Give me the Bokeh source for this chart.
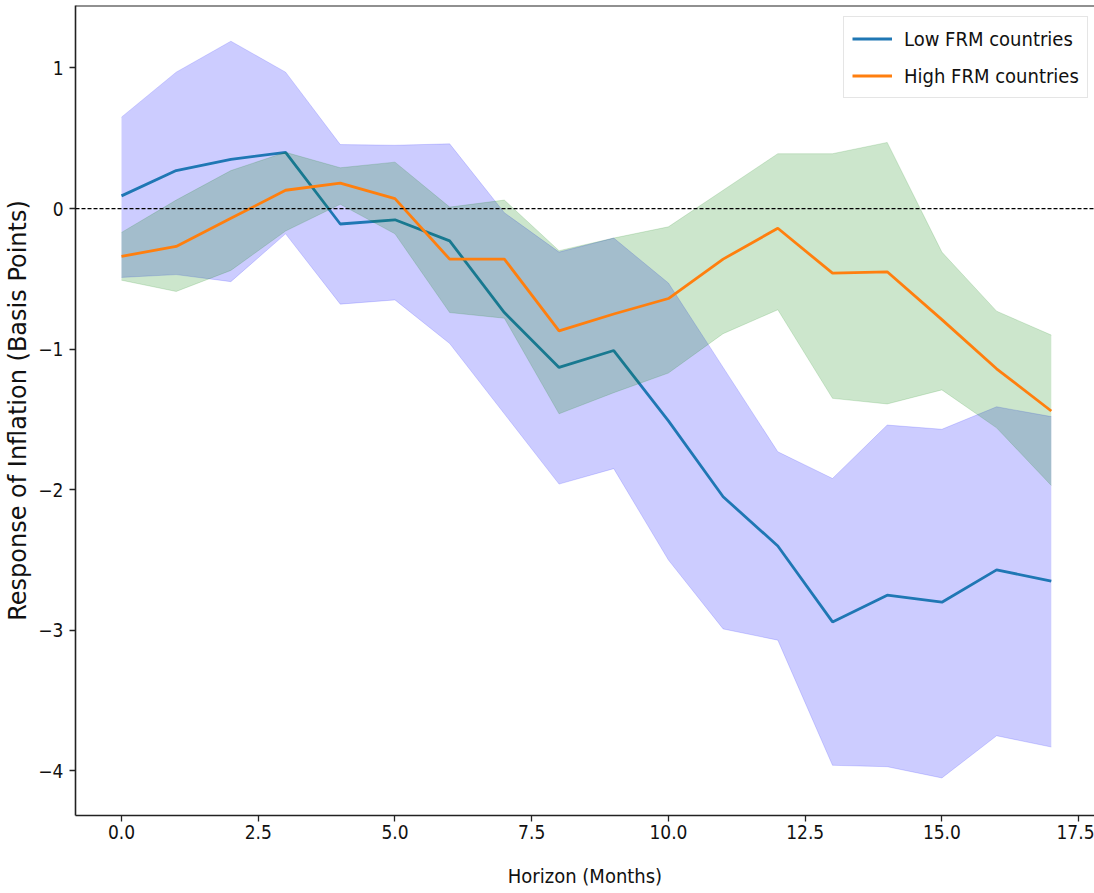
from bokeh.plotting import figure
from bokeh.models import Span, Legend, LegendItem, FixedTicker, Range1d, NumeralTickFormatter
from bokeh.embed import file_html
from bokeh.resources import INLINE

# ---- data ----
horizon = list(range(18))

low_mean = [0.09, 0.27, 0.35, 0.40, -0.11, -0.08, -0.23, -0.74, -1.13, -1.01,
            -1.51, -2.05, -2.40, -2.94, -2.75, -2.80, -2.57, -2.65]
low_upper = [0.65, 0.97, 1.19, 0.97, 0.455, 0.45, 0.46, -0.03, -0.31, -0.21,
             -0.53, -1.13, -1.73, -1.92, -1.54, -1.57, -1.41, -1.48]
low_lower = [-0.49, -0.47, -0.52, -0.18, -0.68, -0.65, -0.96, -1.46, -1.96, -1.85,
             -2.50, -2.99, -3.07, -3.96, -3.97, -4.05, -3.75, -3.83]

high_mean = [-0.34, -0.27, -0.07, 0.13, 0.18, 0.07, -0.36, -0.36, -0.87, -0.75,
             -0.64, -0.36, -0.14, -0.46, -0.45, -0.79, -1.14, -1.44]
high_upper = [-0.17, 0.06, 0.27, 0.40, 0.29, 0.33, 0.01, 0.06, -0.30, -0.21,
              -0.13, 0.13, 0.39, 0.39, 0.47, -0.31, -0.73, -0.90]
high_lower = [-0.51, -0.59, -0.44, -0.16, 0.03, -0.18, -0.74, -0.78, -1.46, -1.31,
              -1.17, -0.89, -0.72, -1.35, -1.39, -1.29, -1.56, -1.97]

series_labels = ["Low FRM countries", "High FRM countries"]
x_ticks = [0, 2.5, 5, 7.5, 10, 12.5, 15, 17.5]
y_ticks = [-4, -3, -2, -1, 0, 1]
y_tick_labels = {-4: "\u22124", -3: "\u22123", -2: "\u22122", -1: "\u22121", 0: "0", 1: "1"}

COND = "DejaVu Sans Condensed"

X0, X1 = -0.841, 17.79
Y0, Y1 = -4.317, 1.444

p = figure(width=1094, height=893, output_backend="svg", toolbar_location=None,
           x_range=Range1d(X0, X1), y_range=Range1d(Y0, Y1),
           min_border_left=75, min_border_right=0, min_border_top=5, min_border_bottom=78)
p.background_fill_color = "white"
p.border_fill_color = "white"
p.outline_line_color = None
p.xgrid.visible = False
p.ygrid.visible = False

# fill_between / plot order as in the source figure
p.varea(x=horizon, y1=low_lower, y2=low_upper, fill_color="blue", fill_alpha=0.2)
p.line(horizon, low_upper, line_color="blue", line_alpha=0.15, line_width=1)
p.line(horizon, low_lower, line_color="blue", line_alpha=0.15, line_width=1)
r_low = p.line(horizon, low_mean, line_color="#1f77b4", line_width=2.8)

p.varea(x=horizon, y1=high_lower, y2=high_upper, fill_color="green", fill_alpha=0.2)
p.line(horizon, high_upper, line_color="green", line_alpha=0.15, line_width=1)
p.line(horizon, high_lower, line_color="green", line_alpha=0.15, line_width=1)
r_high = p.line(horizon, high_mean, line_color="#ff7f0e", line_width=2.8)

p.add_layout(Span(location=0, dimension="width", line_color="black",
                  line_dash="4 2", line_width=1.3))
p.add_layout(Span(location=Y1, dimension="width", line_color="#222222", line_width=2))

# axes
for ax in (p.xaxis[0], p.yaxis[0]):
    ax.axis_line_color = "#222222"
    ax.axis_line_width = 1.6
    ax.major_tick_line_color = "#222222"
    ax.major_tick_line_width = 1.3
    ax.major_tick_out = 6
    ax.major_tick_in = 0
    ax.minor_tick_line_color = None
    ax.major_label_text_color = "#111111"
    ax.major_label_text_font = COND
    ax.major_label_text_font_size = "19px"

p.xaxis.major_label_standoff = 3
p.yaxis.major_label_standoff = 6

p.xaxis.ticker = FixedTicker(ticks=x_ticks)
p.xaxis.formatter = NumeralTickFormatter(format="0.0")
p.xaxis.axis_label = "Horizon (Months)"
p.xaxis.axis_label_text_font = COND
p.xaxis.axis_label_text_font_size = "20px"
p.xaxis.axis_label_text_font_style = "normal"
p.xaxis.axis_label_text_color = "#111111"
p.xaxis.axis_label_standoff = 22

p.yaxis.ticker = FixedTicker(ticks=y_ticks)
p.yaxis.major_label_overrides = y_tick_labels
p.yaxis.axis_label = "Response of Inflation (Basis Points)"
p.yaxis.axis_label_text_font = "DejaVu Sans"
p.yaxis.axis_label_text_font_size = "24px"
p.yaxis.axis_label_text_font_style = "normal"
p.yaxis.axis_label_text_color = "#111111"
p.yaxis.axis_label_standoff = 3

legend = Legend(items=[LegendItem(label=series_labels[0], renderers=[r_low]),
                       LegendItem(label=series_labels[1], renderers=[r_high])],
                location=(768, 717))
legend.label_text_font = COND
legend.label_text_font_size = "20px"
legend.label_text_color = "#111111"
legend.glyph_width = 40
legend.glyph_height = 27
legend.label_height = 27
legend.spacing = 10
legend.padding = 8
legend.margin = 0
legend.label_standoff = 12
legend.border_line_color = "#cccccc"
legend.border_line_width = 1
legend.background_fill_alpha = 0.8
p.add_layout(legend)

open("out.html", "w").write(file_html(p, INLINE))
